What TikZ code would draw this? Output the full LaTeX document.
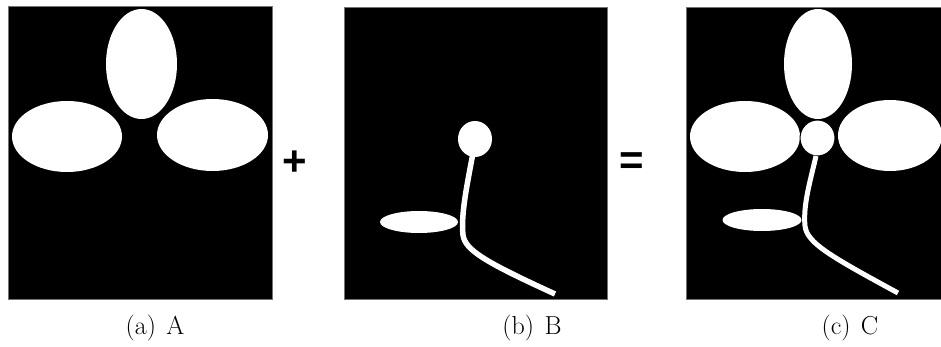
\documentclass[tikz,border=0pt]{standalone}
\usepackage{fontspec}
\newfontfamily\opfont{Liberation Sans}
\begin{document}
\begin{tikzpicture}[x=1pt,y=-1pt,
  panel/.style={fill=black,draw=black!55,line width=0.5pt},
  blob/.style={fill=white},
  stem/.style={draw=white,line width=5.5pt},
  capt/.style={font=\fontsize{26}{30}\selectfont,inner sep=0pt},
  op/.style={font=\opfont\bfseries\fontsize{42}{46}\selectfont,inner sep=0pt,text=black}]
\useasboundingbox (0,0) rectangle (941,347);
% ---- panel A
\filldraw[panel] (8,6) rectangle (272,299);
\fill[blob] (141.5,64) ellipse [x radius=35.5pt, y radius=55pt];
\fill[blob] (67,136.5) ellipse [x radius=55pt, y radius=35.5pt];
\fill[blob] (212.5,135) ellipse [x radius=55.5pt, y radius=36pt];
% ---- panel B
\filldraw[panel] (344,7) rectangle (607,299);
\fill[blob] (475,139) ellipse [x radius=17pt, y radius=18pt];
\fill[blob] (419,222) ellipse [x radius=39pt, y radius=11pt];
\draw[stem] (473,153) .. controls (466,190) and (461,215) .. (463,235)
  .. controls (465,250) and (485,262) .. (555,294);
% ---- panel C
\filldraw[panel] (686,7) rectangle (941,299);
\begin{scope}
\clip (686,7) rectangle (941,299);
\fill[blob] (818,64) ellipse [x radius=34pt, y radius=55pt];
\fill[blob] (745,136.5) ellipse [x radius=55pt, y radius=35.5pt];
\fill[blob] (890,135.5) ellipse [x radius=52pt, y radius=35.5pt];
\filldraw[blob,draw=black,line width=1pt] (817.5,138) ellipse [x radius=17.5pt, y radius=18pt];
\fill[blob] (762,220) ellipse [x radius=39.5pt, y radius=11pt];
\draw[stem,line width=5pt] (816,156) .. controls (810,182) and (803,205) .. (805,226)
  .. controls (807,243) and (830,256) .. (898,293);
\end{scope}
% ---- operators
\node[op] (plus) at (294.5,163.5) {+};
\node[op] (eq) at (632,164) {=};
% ---- captions
\node[capt] (ca) at (155,328) {(a)\hspace{0.4em}A};
\node[capt] (cb) at (532,328) {(b)\hspace{0.4em}B};
\node[capt] (cc) at (850,328) {(c)\hspace{0.4em}C};
\end{tikzpicture}
\end{document}
